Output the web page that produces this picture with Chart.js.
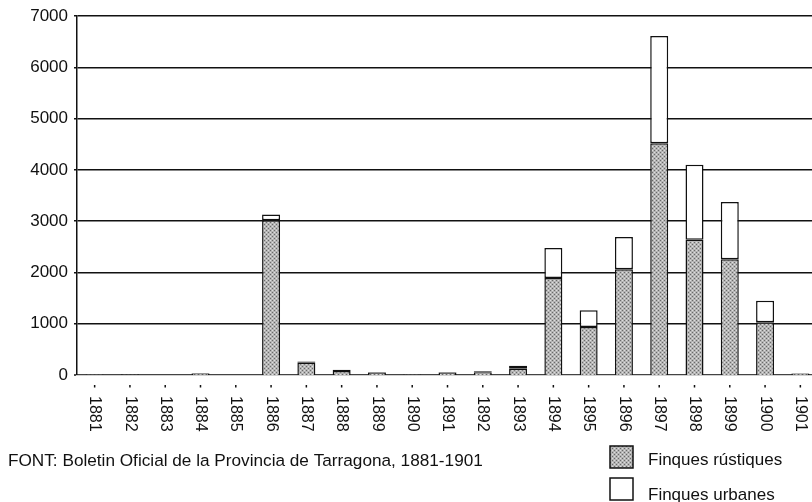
<!DOCTYPE html>
<html>
<head>
<meta charset="utf-8">
<script src="https://cdn.jsdelivr.net/npm/chart.js@4/dist/chart.umd.min.js"></script>
<style>
    html, body { margin: 0; padding: 0; background: #fff; overflow: hidden; }
    #wrap { width: 822px; height: 502px; position: relative; }
</style>
</head>
<body>
<div id="wrap"><canvas id="finquesChart"></canvas></div>
<script>
const years = ['1881', '1882', '1883', '1884', '1885', '1886', '1887', '1888', '1889', '1890', '1891',
    '1892', '1893', '1894', '1895', '1896', '1897', '1898', '1899', '1900', '1901'];
const rustiques = [8, 12, 0, 30, 0, 3020, 240, 80, 50, 12, 50, 55, 120, 1890, 935, 2065, 4520, 2640, 2260, 1030, 25];
const urbanes = [4, 8, 0, 10, 0, 110, 25, 20, 10, 4, 8, 20, 60, 590, 330, 625, 2095, 1460, 1115, 420, 8];
const yTicks = [0, 1000, 2000, 3000, 4000, 5000, 6000, 7000];
const sourceText = 'FONT: Boletin Oficial de la Provincia de Tarragona, 1881-1901';
const legendLabels = ['Finques rústiques', 'Finques urbanes'];

const FONT = '"Liberation Sans", Arial, Helvetica, sans-serif';

// scanned-looking stipple fill for the rustic bars
function makeStipple() {
    const c = document.createElement('canvas');
    c.width = 4;
    c.height = 4;
    const g = c.getContext('2d');
    g.fillStyle = '#b4b4b4';
    g.fillRect(0, 0, 4, 4);
    g.fillStyle = '#6a6a6a';
    g.fillRect(0, 0, 1, 1);
    g.fillRect(2, 2, 1, 1);
    g.fillStyle = '#dedede';
    g.fillRect(2, 0, 1, 1);
    g.fillRect(0, 2, 1, 1);
    return g.createPattern(c, 'repeat');
}

const canvas = document.getElementById('finquesChart');
const stipple = makeStipple();

const extras = {
    id: 'extras',
    afterDraw(chart) {
        const ctx = chart.ctx;
        const x = chart.scales.x;
        ctx.save();
        ctx.fillStyle = '#111';
        ctx.strokeStyle = '#111';

        // year labels, rotated to read top-to-bottom
        ctx.font = '16px ' + FONT;
        ctx.textAlign = 'left';
        ctx.textBaseline = 'middle';
        years.forEach((label, i) => {
            const px = x.getPixelForValue(i);
            ctx.fillRect(px - 0.75, 385, 1.5, 2.5);
            ctx.save();
            ctx.translate(px, 396);
            ctx.rotate(Math.PI / 2);
            ctx.fillText(label, 0, 0);
            ctx.restore();
        });

        // source note
        ctx.font = '17.2px ' + FONT;
        ctx.fillText(sourceText, 8, 461);

        // legend
        ctx.lineWidth = 1.5;
        ctx.fillStyle = stipple;
        ctx.fillRect(610, 446, 23, 22);
        ctx.strokeRect(610, 446, 23, 22);
        ctx.fillStyle = '#fff';
        ctx.fillRect(610, 478, 23, 22);
        ctx.strokeRect(610, 478, 23, 22);
        ctx.fillStyle = '#111';
        ctx.font = '17px ' + FONT;
        ctx.fillText(legendLabels[0], 648, 460);
        ctx.fillText(legendLabels[1], 648, 495);
        ctx.restore();
    }
};

new Chart(canvas, {
    type: 'bar',
    data: {
        labels: years,
        datasets: [{
            label: legendLabels[0],
            data: rustiques,
            backgroundColor: stipple,
            borderColor: '#111',
            borderWidth: 1.5,
            borderSkipped: 'bottom',
            barPercentage: 0.51,
            categoryPercentage: 1
        }, {
            label: legendLabels[1],
            data: urbanes,
            backgroundColor: '#fff',
            borderColor: '#111',
            borderWidth: 1.5,
            borderSkipped: false,
            barPercentage: 0.51,
            categoryPercentage: 1
        }]
    },
    options: {
        responsive: true,
        maintainAspectRatio: false,
        animation: false,
        layout: { padding: { top: 16, right: 4, bottom: 0, left: 0 } },
        plugins: { legend: { display: false }, tooltip: { enabled: false } },
        scales: {
            x: {
                stacked: true,
                ticks: { display: false },
                grid: { display: false },
                border: { display: true, color: '#444', width: 1.2, dash: [2, 2] },
                afterFit: scale => { scale.height = 127; }
            },
            y: {
                stacked: true,
                min: 0,
                max: 7000,
                afterBuildTicks: scale => { scale.ticks = yTicks.map(v => ({ value: v })); },
                ticks: {
                    color: '#111',
                    padding: 6,
                    font: { family: FONT, size: 17 },
                    callback: v => String(v)
                },
                grid: {
                    color: '#111',
                    lineWidth: ctx => (ctx.tick && ctx.tick.value === 0 ? 0 : 1.5),
                    tickLength: 3,
                    tickColor: '#111',
                    tickWidth: 1.5
                },
                border: { display: true, color: '#111', width: 1.5 },
                afterFit: scale => { scale.width = 77; }
            }
        }
    },
    plugins: [extras]
});
</script>
</body>
</html>
